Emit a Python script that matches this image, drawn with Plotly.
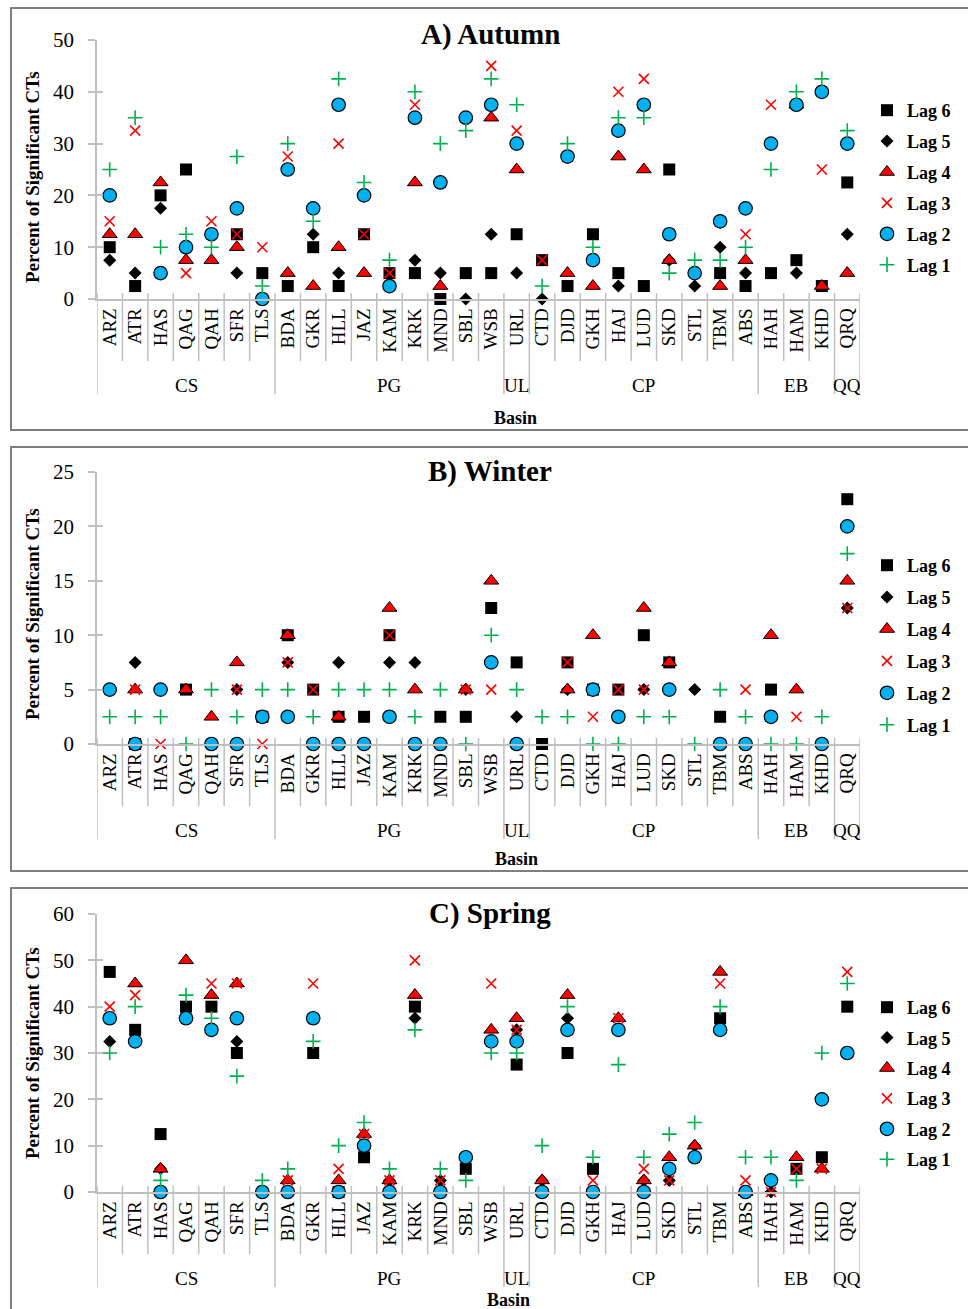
import plotly.graph_objects as go

W, H = 968, 1309

CATEGORIES = ["ARZ", "ATR", "HAS", "QAG", "QAH", "SFR", "TLS", "BDA", "GKR", "HLL",
              "JAZ", "KAM", "KRK", "MND", "SBL", "WSB", "URL", "CTD", "DJD", "GKH",
              "HAJ", "LUD", "SKD", "STL", "TBM", "ABS", "HAH", "HAM", "KHD", "QRQ"]
GROUPS = ["CS", "PG", "UL", "CP", "EB", "QQ"]
GROUP_SIZES = [7, 9, 1, 9, 3, 1]
LAG_NAMES = ["Lag 6", "Lag 5", "Lag 4", "Lag 3", "Lag 2", "Lag 1"]

# ---------------- A) Autumn ----------------
AUTUMN_LAG6 = [10, 2.5, 20, 25, None, 12.5, 5, 2.5, 10, 2.5, 12.5, 5, 5, 0, 5, 5, 12.5, 7.5, 2.5, 12.5,
               5, 2.5, 25, None, 5, 2.5, 5, 7.5, 2.5, 22.5]
AUTUMN_LAG5 = [7.5, 5, 17.5, None, None, 5, None, None, 12.5, 5, None, None, 7.5, 5, 0, 12.5, 5, 0, None, None,
               2.5, None, 7.5, 2.5, 10, 5, None, 5, None, 12.5]
AUTUMN_LAG4 = [12.5, 12.5, 22.5, 7.5, 7.5, 10, None, 5, 2.5, 10, 5, None, 22.5, 2.5, None, 35, 25, None, 5, 2.5,
               27.5, 25, 7.5, None, 2.5, 7.5, None, 37.5, 2.5, 5]
AUTUMN_LAG3 = [15, 32.5, 5, 5, 15, 12.5, 10, 27.5, None, 30, 12.5, 5, 37.5, 22.5, None, 45, 32.5, 7.5, 27.5, 7.5,
               40, 42.5, 12.5, None, None, 12.5, 37.5, None, 25, 30]
AUTUMN_LAG2 = [20, None, 5, 10, 12.5, 17.5, 0, 25, 17.5, 37.5, 20, 2.5, 35, 22.5, 35, 37.5, 30, None, 27.5, 7.5,
               32.5, 37.5, 12.5, 5, 15, 17.5, 30, 37.5, 40, 30]
AUTUMN_LAG1 = [25, 35, 10, 12.5, 10, 27.5, 2.5, 30, 15, 42.5, 22.5, 7.5, 40, 30, 32.5, 42.5, 37.5, 2.5, 30, 10,
               35, 35, 5, 7.5, 7.5, 10, 25, 40, 42.5, 32.5]

# ---------------- B) Winter ----------------
WINTER_LAG6 = [None, 0, None, 5, None, None, 2.5, 10, 5, 2.5, 2.5, 10, None, 2.5, 2.5, 12.5, 7.5, 0, 7.5, 5,
               5, 10, 7.5, None, 2.5, None, 5, None, None, 22.5]
WINTER_LAG5 = [None, 7.5, None, None, None, 5, None, 7.5, None, 7.5, None, 7.5, 7.5, None, 5, None, 2.5, None, 5, None,
               None, 5, None, 5, None, None, None, None, None, 12.5]
WINTER_LAG4 = [None, 5, None, 5, 2.5, 7.5, None, 10, None, 2.5, None, 12.5, 5, None, 5, 15, None, None, 5, 10,
               None, 12.5, 7.5, None, None, None, 10, 5, None, 15]
WINTER_LAG3 = [5, 5, 0, None, 0, 5, 0, 7.5, 5, None, None, 10, 0, None, 5, 5, 0, None, 7.5, 2.5,
               5, 5, 5, None, None, 5, 2.5, 2.5, None, 12.5]
WINTER_LAG2 = [5, 0, 5, None, 0, 0, 2.5, 2.5, 0, 0, 0, 2.5, 0, 0, None, 7.5, 0, None, None, 5,
               2.5, None, 5, None, 0, 0, 2.5, None, 0, 20]
WINTER_LAG1 = [2.5, 2.5, 2.5, 0, 5, 2.5, 5, 5, 2.5, 5, 5, 5, 2.5, 5, 0, 10, 5, 2.5, 2.5, 0,
               0, 2.5, 2.5, 0, 5, 2.5, 0, 0, 2.5, 17.5]

# ---------------- C) Spring ----------------
SPRING_LAG6 = [47.5, 35, 12.5, 40, 40, 30, None, None, 30, 0, 7.5, None, 40, None, 5, None, 27.5, None, 30, 5,
               None, None, None, None, 37.5, None, None, 5, 7.5, 40]
SPRING_LAG5 = [32.5, None, 5, None, None, 32.5, None, None, None, None, None, 2.5, 37.5, 2.5, None, None, 35, 2.5, 37.5, None,
               None, 2.5, 2.5, 10, None, None, 0, None, None, None]
SPRING_LAG4 = [None, 45, 5, 50, 42.5, 45, None, 2.5, None, 2.5, 12.5, 2.5, 42.5, None, None, 35, 37.5, 2.5, 42.5, None,
               37.5, 2.5, 7.5, 10, 47.5, 0, None, 7.5, 5, None]
SPRING_LAG3 = [40, 42.5, None, None, 45, 45, None, 2.5, 45, 5, 12.5, 2.5, 50, 2.5, None, 45, 35, 0, None, 2.5,
               37.5, 5, 2.5, None, 45, 2.5, 0, 5, 5, 47.5]
SPRING_LAG2 = [37.5, 32.5, 0, 37.5, 35, 37.5, 0, 0, 37.5, 0, 10, 0, None, 0, 7.5, 32.5, 32.5, 0, 35, 0,
               35, 0, 5, 7.5, 35, 0, 2.5, None, 20, 30]
SPRING_LAG1 = [30, 40, 2.5, 42.5, 37.5, 25, 2.5, 5, 32.5, 10, 15, 5, 35, 5, 2.5, 30, 30, 10, 40, 7.5,
               27.5, 7.5, 12.5, 15, 40, 7.5, 7.5, 2.5, 30, 45]

# ---------------- styling ----------------
SERIF = "Liberation Serif"
AXIS_GRAY = "#bfbfbf"
MARKERS = [
    dict(symbol="square", size=12, color="black", line=dict(width=0)),
    dict(symbol="diamond", size=10, color="black", line=dict(width=0)),
    dict(symbol="triangle-up", size=13, color="#ff0000", line=dict(color="black", width=1)),
    dict(symbol="x-thin-open", size=10, color="#ff0000", line=dict(color="#ff0000", width=1.6)),
    dict(symbol="circle", size=13.5, color="#00b0f0", line=dict(color="black", width=1.2)),
    dict(symbol="cross-thin-open", size=10.5, color="#00b050", line=dict(color="#00b050", width=1.6)),
]


def py(p):
    return 1 - p / H


def px(p):
    return p / W


PANELS = [
    dict(title="A) Autumn", series=[AUTUMN_LAG6, AUTUMN_LAG5, AUTUMN_LAG4, AUTUMN_LAG3, AUTUMN_LAG2, AUTUMN_LAG1],
         ymax=50, dtick=10, y0=299, ytop=40, title_y=35, ytitle_y=177, basin_y=418, basin_x=515, legend_top=92,
         legend_gap=4.5, box=(8, 430)),
    dict(title="B) Winter", series=[WINTER_LAG6, WINTER_LAG5, WINTER_LAG4, WINTER_LAG3, WINTER_LAG2, WINTER_LAG1],
         ymax=25, dtick=5, y0=744, ytop=472, title_y=472, ytitle_y=614, basin_y=859, basin_x=516, legend_top=547,
         legend_gap=5.5, box=(447, 871)),
    dict(title="C) Spring", series=[SPRING_LAG6, SPRING_LAG5, SPRING_LAG4, SPRING_LAG3, SPRING_LAG2, SPRING_LAG1],
         ymax=60, dtick=10, y0=1192, ytop=914, title_y=913, ytitle_y=1053, basin_y=1300, basin_x=508, legend_top=989,
         legend_gap=4, box=(888, 1330)),
]

X_LEFT, X_RIGHT = 97, 860

fig = go.Figure()
layout = dict(width=W, height=H, margin=dict(l=0, r=0, t=0, b=0, autoexpand=False),
              paper_bgcolor="white", plot_bgcolor="white", showlegend=True)
shapes, annotations = [], []

x = list(range(len(CATEGORIES)))
boundaries = [i - 0.5 for i in range(len(CATEGORIES) + 1)]
group_bounds = [-0.5]
for s in GROUP_SIZES:
    group_bounds.append(group_bounds[-1] + s)

for k, p in enumerate(PANELS):
    n = "" if k == 0 else str(k + 1)
    xa, ya = "x" + n, "y" + n
    leg = "legend" + n
    for j, (name, vals) in enumerate(zip(LAG_NAMES, p["series"])):
        fig.add_trace(go.Scatter(
            x=x, y=vals, mode="markers", name=name, marker=MARKERS[j],
            xaxis=xa, yaxis=ya, legend=leg, legendgroup=f"{k}{j}", cliponaxis=False,
            hoverinfo="skip"))
    layout["xaxis" + n] = dict(
        domain=[px(X_LEFT), px(X_RIGHT)], range=[-0.5, 29.5], anchor=ya,
        tickvals=x, ticktext=CATEGORIES, tickangle=-90,
        tickfont=dict(family=SERIF, size=19, color="black"),
        showline=True, linecolor=AXIS_GRAY, linewidth=1.5, ticks="",
        showgrid=False, zeroline=False, fixedrange=True, automargin=False)
    layout["yaxis" + n] = dict(
        domain=[py(p["y0"]), py(p["ytop"])], range=[0, p["ymax"]], anchor=xa,
        tickvals=list(range(0, p["ymax"] + 1, p["dtick"])),
        ticks="outside", ticklen=7, tickwidth=1.5, tickcolor=AXIS_GRAY,
        showline=True, linecolor=AXIS_GRAY, linewidth=1.5,
        tickfont=dict(family=SERIF, size=21, color="black"), ticklabelstandoff=10,
        showgrid=False, zeroline=False, fixedrange=True, automargin=False)
    # inner half of the crossing tick marks
    on = str(k + 4)
    layout["yaxis" + on] = dict(
        overlaying=ya, anchor=xa, side="left", range=[0, p["ymax"]],
        tickvals=list(range(0, p["ymax"] + 1, p["dtick"])),
        ticks="inside", ticklen=6, tickwidth=1.5, tickcolor=AXIS_GRAY,
        showticklabels=False, showline=False, showgrid=False, zeroline=False,
        fixedrange=True, automargin=False)
    fig.add_trace(go.Scatter(x=[], y=[], xaxis=xa, yaxis="y" + on, showlegend=False, hoverinfo="skip"))

    layout[leg] = dict(
        x=px(867), xanchor="left", y=py(p["legend_top"]), yanchor="top",
        font=dict(family=SERIF, size=18, color="black", weight="bold"),
        bgcolor="rgba(0,0,0,0)", traceorder="grouped", tracegroupgap=p["legend_gap"])

    y0 = p["y0"]
    # category separators (crossing the axis)
    for b in boundaries:
        end = y0 + 95 if b in group_bounds else y0 + 62
        shapes.append(dict(type="line", xref=xa, yref="paper", x0=b, x1=b,
                           y0=py(y0 - 6), y1=py(end), line=dict(color=AXIS_GRAY, width=1.5)))
    # group labels
    for g, lo, hi in zip(GROUPS, group_bounds[:-1], group_bounds[1:]):
        annotations.append(dict(text=g, xref=xa, yref="paper", x=(lo + hi) / 2, y=py(y0 + 86),
                                showarrow=False, xanchor="center", yanchor="middle",
                                font=dict(family=SERIF, size=19, color="black")))
    # panel title
    annotations.append(dict(text="<b>" + p["title"] + "</b>", xref="paper", yref="paper",
                            x=px(490), y=py(p["title_y"]), showarrow=False, xanchor="center",
                            yanchor="middle", font=dict(family=SERIF, size=29, color="black")))
    # y title
    annotations.append(dict(text="<b>Percent of Significant CTs</b>", xref="paper", yref="paper",
                            x=px(32), y=py(p["ytitle_y"]), showarrow=False, textangle=-90,
                            xanchor="center", yanchor="middle",
                            font=dict(family=SERIF, size=19, color="black")))
    # x title
    annotations.append(dict(text="<b>Basin</b>", xref="paper", yref="paper",
                            x=px(p["basin_x"]), y=py(p["basin_y"]), showarrow=False,
                            xanchor="center", yanchor="middle",
                            font=dict(family=SERIF, size=18, color="black")))
    # panel frame
    shapes.append(dict(type="rect", xref="paper", yref="paper", x0=px(11), x1=px(980),
                       y0=py(p["box"][1]), y1=py(p["box"][0]),
                       line=dict(color="#7f7f7f", width=2), layer="below"))

layout["shapes"] = shapes
layout["annotations"] = annotations
fig.update_layout(**layout)
fig.write_html("out.html")
